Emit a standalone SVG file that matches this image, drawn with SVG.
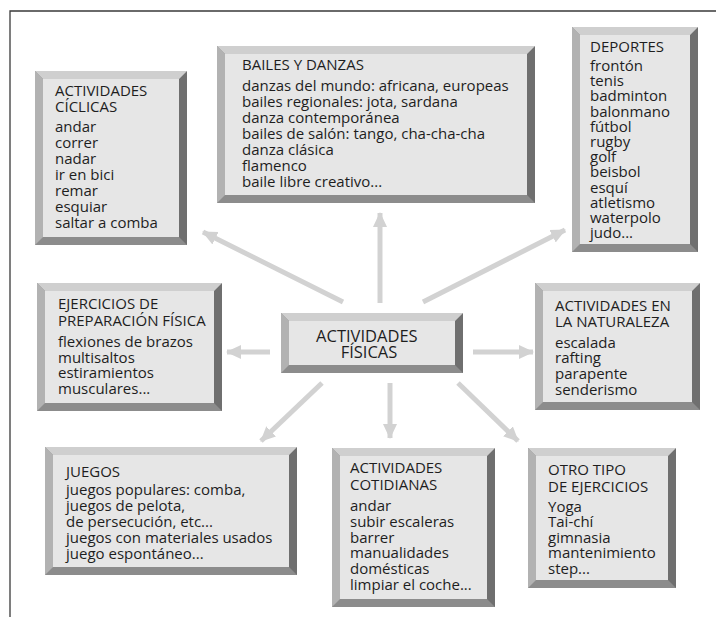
<svg xmlns="http://www.w3.org/2000/svg" width="716" height="617" viewBox="0 0 716 617">
  <defs>
    <marker id="head" markerUnits="userSpaceOnUse" markerWidth="16" markerHeight="16" refX="14" refY="8" orient="auto">
      <path d="M0,1 L15,8 L0,15 Z" fill="#d2d2d2"/>
    </marker>
    <style>
      .bot { fill: #8c8c8c; }
      .right { fill: #6f6f6f; }
      .top { fill: #cfcfcf; }
      .left { fill: #b2b2b2; }
      .face { fill: #e6e6e6; }
      text { font-family: "Open Sans", "Noto Sans", "DejaVu Sans", sans-serif; font-size: 15px; fill: #1e1e1e; }
      .h { font-weight: 500; }
      .center text { font-size: 16.5px; text-anchor: middle; font-weight: 500; }
      .arrow { stroke: #d2d2d2; stroke-width: 5; fill: none; marker-end: url(#head); }
    </style>
  </defs>
  <rect width="716" height="617" fill="#ffffff"/>

  <!-- page frame -->
  <path d="M10,617 V11 H716" fill="none" stroke="#3a3a3a" stroke-width="1.3"/>

  <!-- connectors -->
  <g id="connectors">
    <line class="arrow" x1="343" y1="302" x2="203" y2="232"/>
    <line class="arrow" x1="380" y1="303" x2="380" y2="213"/>
    <line class="arrow" x1="423" y1="302" x2="565" y2="230"/>
    <line class="arrow" x1="270" y1="352" x2="227" y2="352"/>
    <line class="arrow" x1="473" y1="352" x2="533" y2="352"/>
    <line class="arrow" x1="322" y1="383" x2="261" y2="441"/>
    <line class="arrow" x1="390" y1="383" x2="390" y2="438"/>
    <line class="arrow" x1="458" y1="383" x2="518" y2="441"/>
  </g>

  <!-- ACTIVIDADES CÍCLICAS -->
  <g id="ciclicas">
    <rect class="bot" x="35" y="71" width="152" height="174"/>
    <polygon class="right" points="187,71 187,245 179,237 179,79"/>
    <polygon class="top" points="35,71 187,71 179,79 43,79"/>
    <polygon class="left" points="35,71 43,79 43,237 35,245"/>
    <rect class="face" x="43" y="79" width="136" height="158"/>
    <text>
      <tspan class="h" x="55" y="96">ACTIVIDADES</tspan>
      <tspan class="h" x="55" y="112">CÍCLICAS</tspan>
      <tspan x="55" y="132">andar</tspan>
      <tspan x="55" y="148">correr</tspan>
      <tspan x="55" y="164">nadar</tspan>
      <tspan x="55" y="180">ir en bici</tspan>
      <tspan x="55" y="196">remar</tspan>
      <tspan x="55" y="212">esquiar</tspan>
      <tspan x="55" y="228">saltar a comba</tspan>
    </text>
  </g>

  <!-- BAILES Y DANZAS -->
  <g id="bailes">
    <rect class="bot" x="217" y="46" width="318" height="157"/>
    <polygon class="right" points="535,46 535,203 527,195 527,54"/>
    <polygon class="top" points="217,46 535,46 527,54 225,54"/>
    <polygon class="left" points="217,46 225,54 225,195 217,203"/>
    <rect class="face" x="225" y="54" width="302" height="141"/>
    <text>
      <tspan class="h" x="242" y="70">BAILES Y DANZAS</tspan>
      <tspan x="242" y="91">danzas del mundo: africana, europeas</tspan>
      <tspan x="242" y="107">bailes regionales: jota, sardana</tspan>
      <tspan x="242" y="123">danza contemporánea</tspan>
      <tspan x="242" y="139">bailes de salón: tango, cha-cha-cha</tspan>
      <tspan x="242" y="155">danza clásica</tspan>
      <tspan x="242" y="171">flamenco</tspan>
      <tspan x="242" y="187">baile libre creativo...</tspan>
    </text>
  </g>

  <!-- DEPORTES -->
  <g id="deportes">
    <rect class="bot" x="572" y="27" width="126" height="225"/>
    <polygon class="right" points="698,27 698,252 690,244 690,35"/>
    <polygon class="top" points="572,27 698,27 690,35 580,35"/>
    <polygon class="left" points="572,27 580,35 580,244 572,252"/>
    <rect class="face" x="580" y="35" width="110" height="209"/>
    <text>
      <tspan class="h" x="590" y="52">DEPORTES</tspan>
      <tspan x="590" y="71">frontón</tspan>
      <tspan x="590" y="86.2">tenis</tspan>
      <tspan x="590" y="101.4">badminton</tspan>
      <tspan x="590" y="116.6">balonmano</tspan>
      <tspan x="590" y="131.8">fútbol</tspan>
      <tspan x="590" y="147">rugby</tspan>
      <tspan x="590" y="162.2">golf</tspan>
      <tspan x="590" y="177.4">beisbol</tspan>
      <tspan x="590" y="192.6">esquí</tspan>
      <tspan x="590" y="207.8">atletismo</tspan>
      <tspan x="590" y="223">waterpolo</tspan>
      <tspan x="590" y="238.2">judo...</tspan>
    </text>
  </g>

  <!-- EJERCICIOS DE PREPARACIÓN FÍSICA -->
  <g id="ejercicios">
    <rect class="bot" x="37" y="283" width="185" height="128"/>
    <polygon class="right" points="222,283 222,411 214,403 214,291"/>
    <polygon class="top" points="37,283 222,283 214,291 45,291"/>
    <polygon class="left" points="37,283 45,291 45,403 37,411"/>
    <rect class="face" x="45" y="291" width="169" height="112"/>
    <text>
      <tspan class="h" x="58" y="309">EJERCICIOS DE</tspan>
      <tspan class="h" x="58" y="326">PREPARACIÓN FÍSICA</tspan>
      <tspan x="58" y="347">flexiones de brazos</tspan>
      <tspan x="58" y="363">multisaltos</tspan>
      <tspan x="58" y="378">estiramientos</tspan>
      <tspan x="58" y="394">musculares...</tspan>
    </text>
  </g>

  <!-- ACTIVIDADES FÍSICAS -->
  <g id="fisicas" class="center">
    <rect class="bot" x="281" y="313" width="182" height="60"/>
    <polygon class="right" points="463,313 463,373 455,365 455,321"/>
    <polygon class="top" points="281,313 463,313 455,321 289,321"/>
    <polygon class="left" points="281,313 289,321 289,365 281,373"/>
    <rect class="face" x="289" y="321" width="166" height="44"/>
    <text>
      <tspan x="369" y="342">ACTIVIDADES</tspan>
      <tspan x="369" y="358">FÍSICAS</tspan>
    </text>
  </g>

  <!-- ACTIVIDADES EN LA NATURALEZA -->
  <g id="naturaleza">
    <rect class="bot" x="535" y="283" width="165" height="127"/>
    <polygon class="right" points="700,283 700,410 692,402 692,291"/>
    <polygon class="top" points="535,283 700,283 692,291 543,291"/>
    <polygon class="left" points="535,283 543,291 543,402 535,410"/>
    <rect class="face" x="543" y="291" width="149" height="111"/>
    <text>
      <tspan class="h" x="555" y="311">ACTIVIDADES EN</tspan>
      <tspan class="h" x="555" y="327">LA NATURALEZA</tspan>
      <tspan x="555" y="348">escalada</tspan>
      <tspan x="555" y="363">rafting</tspan>
      <tspan x="555" y="379">parapente</tspan>
      <tspan x="555" y="395">senderismo</tspan>
    </text>
  </g>

  <!-- JUEGOS -->
  <g id="juegos">
    <rect class="bot" x="45" y="447" width="252" height="128"/>
    <polygon class="right" points="297,447 297,575 289,567 289,455"/>
    <polygon class="top" points="45,447 297,447 289,455 53,455"/>
    <polygon class="left" points="45,447 53,455 53,567 45,575"/>
    <rect class="face" x="53" y="455" width="236" height="112"/>
    <text>
      <tspan class="h" x="66" y="477">JUEGOS</tspan>
      <tspan x="66" y="495">juegos populares: comba,</tspan>
      <tspan x="66" y="511">juegos de pelota,</tspan>
      <tspan x="66" y="527">de persecución, etc...</tspan>
      <tspan x="66" y="543">juegos con materiales usados</tspan>
      <tspan x="66" y="559">juego espontáneo...</tspan>
    </text>
  </g>

  <!-- ACTIVIDADES COTIDIANAS -->
  <g id="cotidianas">
    <rect class="bot" x="332" y="448" width="163" height="159"/>
    <polygon class="right" points="495,448 495,607 487,599 487,456"/>
    <polygon class="top" points="332,448 495,448 487,456 340,456"/>
    <polygon class="left" points="332,448 340,456 340,599 332,607"/>
    <rect class="face" x="340" y="456" width="147" height="143"/>
    <text>
      <tspan class="h" x="350" y="473">ACTIVIDADES</tspan>
      <tspan class="h" x="350" y="490">COTIDIANAS</tspan>
      <tspan x="350" y="511">andar</tspan>
      <tspan x="350" y="527">subir escaleras</tspan>
      <tspan x="350" y="543">barrer</tspan>
      <tspan x="350" y="558">manualidades</tspan>
      <tspan x="350" y="574">domésticas</tspan>
      <tspan x="350" y="590">limpiar el coche...</tspan>
    </text>
  </g>

  <!-- OTRO TIPO DE EJERCICIOS -->
  <g id="otros">
    <rect class="bot" x="528" y="448" width="148" height="140"/>
    <polygon class="right" points="676,448 676,588 668,580 668,456"/>
    <polygon class="top" points="528,448 676,448 668,456 536,456"/>
    <polygon class="left" points="528,448 536,456 536,580 528,588"/>
    <rect class="face" x="536" y="456" width="132" height="124"/>
    <text>
      <tspan class="h" x="548" y="475">OTRO TIPO</tspan>
      <tspan class="h" x="548" y="492">DE EJERCICIOS</tspan>
      <tspan x="548" y="512">Yoga</tspan>
      <tspan x="548" y="527">Tai-chí</tspan>
      <tspan x="548" y="543">gimnasia</tspan>
      <tspan x="548" y="558">mantenimiento</tspan>
      <tspan x="548" y="574">step...</tspan>
    </text>
  </g>
</svg>
